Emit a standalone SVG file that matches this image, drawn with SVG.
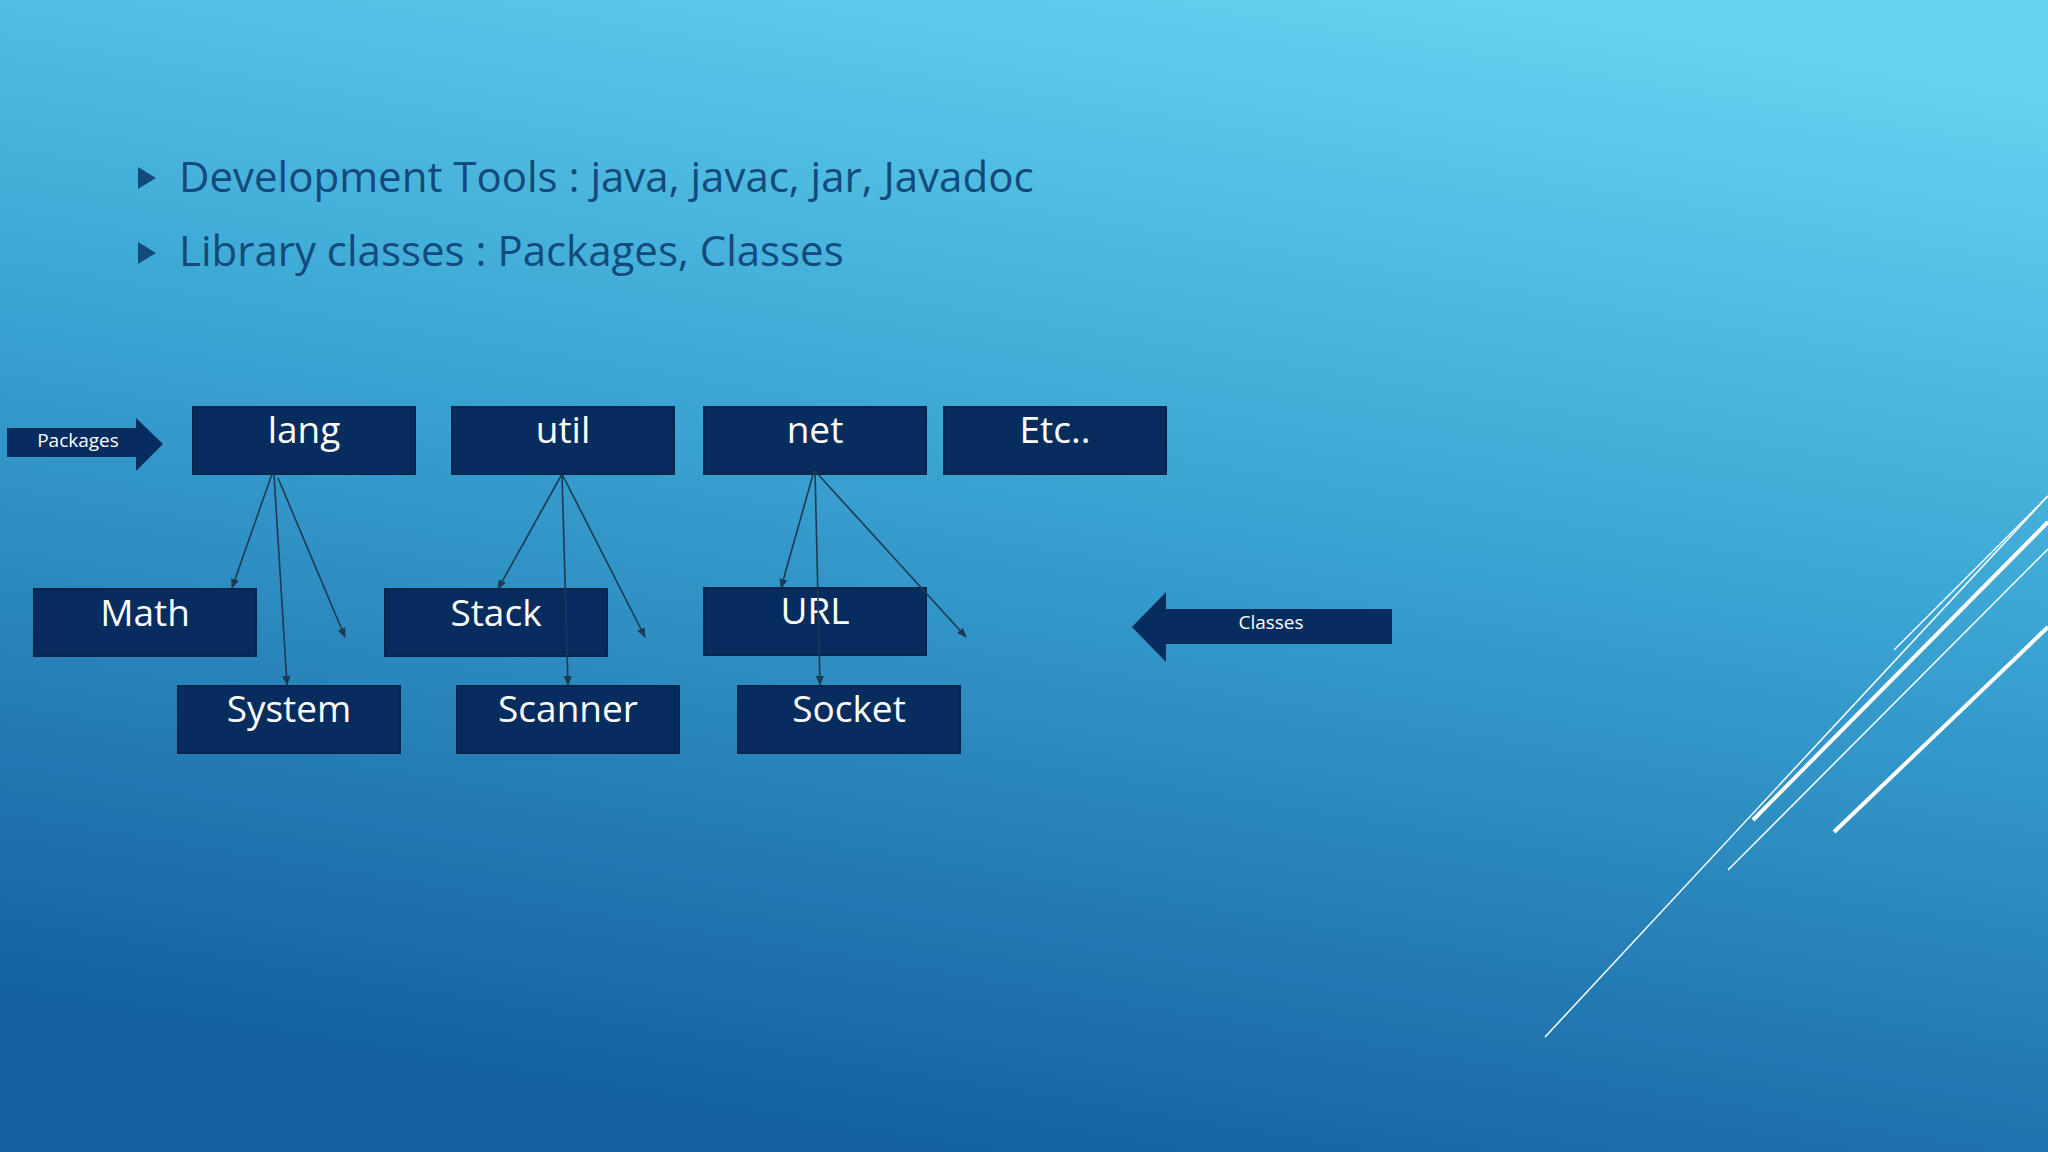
<svg xmlns="http://www.w3.org/2000/svg" width="2048" height="1152" viewBox="0 0 2048 1152">
<defs>
<linearGradient id="bg" x1="0.75" y1="0" x2="0.45" y2="1">
<stop offset="0" stop-color="#63d4f1"/>
<stop offset="0.45" stop-color="#3aa3d2"/>
<stop offset="1" stop-color="#14609f"/>
</linearGradient>
<marker id="ah" viewBox="0 0 10 10" refX="9" refY="5" markerWidth="10" markerHeight="10" orient="auto" markerUnits="userSpaceOnUse">
<path d="M0,1 L10,5 L0,9 z" fill="#1d3a52"/>
</marker>
<style>
.box{fill:#062d5e;stroke:#04254d;stroke-width:2}
.lbl{font-family:"Open Sans","Noto Sans",sans-serif;font-size:37px;fill:#ffffff;text-anchor:middle}
.small{font-family:"Open Sans","Noto Sans",sans-serif;font-size:19px;fill:#ffffff;text-anchor:middle}
.bul{font-family:"Open Sans","Noto Sans",sans-serif;font-size:42px;fill:#124a7a}
.con{stroke:#1d3a52;stroke-width:1.6;fill:none;marker-end:url(#ah)}
.wl{stroke:#ffffff;fill:none}
</style>
</defs>
<rect width="2048" height="1152" fill="url(#bg)"/>
<g id="deco">
<line class="wl" x1="1545" y1="1037" x2="2048" y2="496" stroke-width="1.5"/>
<line class="wl" x1="1753" y1="820" x2="2048" y2="522" stroke-width="4"/>
<line class="wl" x1="1728" y1="870" x2="2048" y2="549" stroke-width="1.5"/>
<line class="wl" x1="1894" y1="650" x2="2048" y2="496" stroke-width="1.5"/>
<line class="wl" x1="1834" y1="832" x2="2048" y2="627" stroke-width="4"/>
</g>
<g id="bullets">
<polygon points="138,167 156,178 138,189" fill="#124a7a"/>
<text class="bul" x="179" y="192">Development Tools : java, javac, jar, Javadoc</text>
<polygon points="138,242 156,253 138,264" fill="#124a7a"/>
<text class="bul" x="179" y="266">Library classes : Packages, Classes</text>
</g>
<g id="packages-arrow">
<polygon points="7,428 136,428 136,418 163,444 136,471 136,457 7,457" fill="#062d5e"/>
<text class="small" x="78" y="447">Packages</text>
</g>
<g id="classes-arrow">
<polygon points="1132,627 1166,592 1166,609 1392,609 1392,644 1166,644 1166,662" fill="#062d5e"/>
<text class="small" x="1271" y="629">Classes</text>
</g>
<g id="lang"><rect class="box" x="193" y="407" width="222" height="67"/><text class="lbl" x="304" y="443">lang</text></g>
<g id="util"><rect class="box" x="452" y="407" width="222" height="67"/><text class="lbl" x="563" y="443">util</text></g>
<g id="net"><rect class="box" x="704" y="407" width="222" height="67"/><text class="lbl" x="815" y="443">net</text></g>
<g id="etc"><rect class="box" x="944" y="407" width="222" height="67"/><text class="lbl" x="1055" y="443">Etc..</text></g>
<g id="math"><rect class="box" x="34" y="589" width="222" height="67"/><text class="lbl" x="145" y="626">Math</text></g>
<g id="stack"><rect class="box" x="385" y="589" width="222" height="67"/><text class="lbl" x="496" y="626">Stack</text></g>
<g id="url"><rect class="box" x="704" y="588" width="222" height="67"/><text class="lbl" x="815" y="624">URL</text></g>
<g id="system"><rect class="box" x="178" y="686" width="222" height="67"/><text class="lbl" x="289" y="722">System</text></g>
<g id="scanner"><rect class="box" x="457" y="686" width="222" height="67"/><text class="lbl" x="568" y="722">Scanner</text></g>
<g id="socket"><rect class="box" x="738" y="686" width="222" height="67"/><text class="lbl" x="849" y="722">Socket</text></g>
<g id="connectors">
<line class="con" x1="272" y1="474" x2="232" y2="588"/>
<line class="con" x1="274" y1="474" x2="287" y2="685"/>
<line class="con" x1="278" y1="478" x2="345" y2="637"/>
<line class="con" x1="562" y1="474" x2="498" y2="589"/>
<line class="con" x1="562" y1="474" x2="568" y2="685"/>
<line class="con" x1="562" y1="474" x2="645" y2="637"/>
<line class="con" x1="814" y1="471" x2="781" y2="588"/>
<line class="con" x1="815" y1="471" x2="820" y2="685"/>
<line class="con" x1="815" y1="471" x2="966" y2="637"/>
</g>
</svg>
